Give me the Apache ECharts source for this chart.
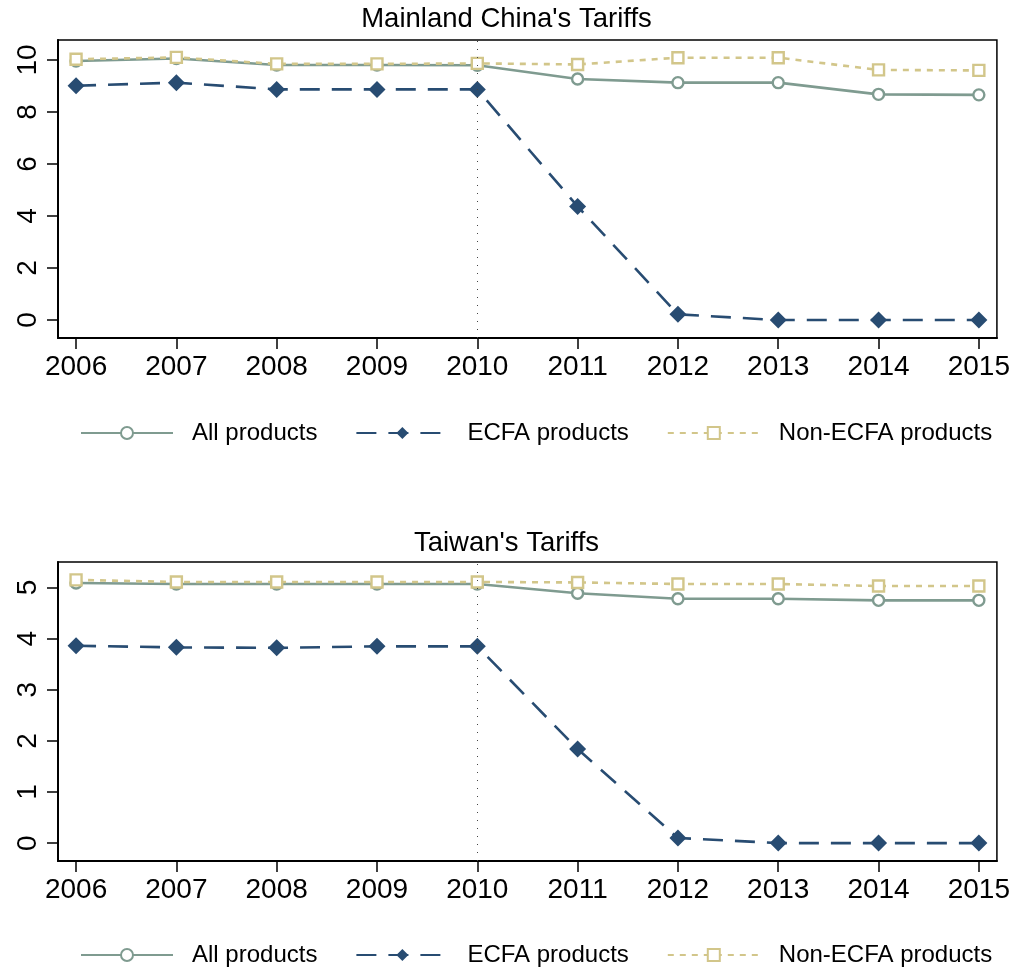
<!DOCTYPE html>
<html>
<head>
<meta charset="utf-8">
<script src="https://cdn.jsdelivr.net/npm/echarts@6/dist/echarts.min.js"></script>
<style>
  html, body { margin: 0; padding: 0; background: #fff; }
  #chart { width: 1013px; height: 969px; }
</style>
</head>
<body>
<div id="chart"></div>
<script>
// Average tariff rates (%) by year
const years = [2006, 2007, 2008, 2009, 2010, 2011, 2012, 2013, 2014, 2015];

const chinaAll     = [9.96, 10.06, 9.81, 9.81, 9.80, 9.27, 9.13, 9.13, 8.68, 8.66];
const chinaEcfa    = [9.01, 9.13, 8.87, 8.87, 8.87, 4.37, 0.22, 0.00, 0.00, 0.00];
const chinaNonEcfa = [10.03, 10.10, 9.85, 9.85, 9.87, 9.83, 10.09, 10.09, 9.62, 9.60];

const taiwanAll     = [5.09, 5.07, 5.07, 5.07, 5.07, 4.89, 4.78, 4.78, 4.75, 4.75];
const taiwanEcfa    = [3.86, 3.83, 3.82, 3.85, 3.85, 1.84, 0.10, 0.00, 0.00, 0.00];
const taiwanNonEcfa = [5.15, 5.11, 5.11, 5.11, 5.11, 5.10, 5.07, 5.07, 5.03, 5.03];

const chinaTicks  = [0, 2, 4, 6, 8, 10];
const taiwanTicks = [0, 1, 2, 3, 4, 5];

const seriesNames = ['All products', 'ECFA products', 'Non-ECFA products'];
const ecfaYear = 2010;

const FONT = 'Liberation Sans, Helvetica, Arial, sans-serif';
const C_ALL = '#7f9b90';
const C_ECFA = '#284c72';
const C_NON = '#d2c68a';

function pairs(vals) { return years.map((y, i) => [y, vals[i]]); }

function styleFor(name) {
  if (name === 'All products') {
    return { symbol: 'circle', symbolSize: 11, color: C_ALL, lineType: 'solid', fill: '#fff', bw: 2.4 };
  }
  if (name === 'ECFA products') {
    return { symbol: 'diamond', symbolSize: 17, color: C_ECFA, lineType: [20, 12], fill: C_ECFA, bw: 0 };
  }
  return { symbol: 'rect', symbolSize: 11, color: C_NON, lineType: [6, 6], fill: '#fff', bw: 2.4 };
}

function makeSeries(gridIdx, name, vals, withMark) {
  const s = styleFor(name);
  const out = {
    type: 'line',
    name: name,
    xAxisIndex: gridIdx,
    yAxisIndex: gridIdx,
    data: pairs(vals),
    symbol: s.symbol,
    symbolSize: s.symbolSize,
    showAllSymbol: true,
    lineStyle: { color: s.color, width: 2.6, type: s.lineType },
    itemStyle: { color: s.fill, borderColor: s.color, borderWidth: s.bw },
    emphasis: { disabled: true },
    animation: false,
    z: 3
  };
  if (withMark) {
    out.markLine = {
      silent: true,
      symbol: 'none',
      label: { show: false },
      lineStyle: { color: '#444', width: 1, type: [1, 7] },
      data: [{ xAxis: ecfaYear }],
      animation: false
    };
  }
  return out;
}

function xAxis(gridIdx) {
  return {
    type: 'value',
    gridIndex: gridIdx,
    min: 2005.82,
    max: 2015.18,
    splitLine: { show: false },
    axisLine: { show: true, onZero: false, lineStyle: { color: '#000', width: 2 } },
    axisTick: { show: true, length: 11, lineStyle: { color: '#000', width: 1.5 }, customValues: years },
    axisLabel: { fontFamily: FONT, fontSize: 28, color: '#000', margin: 15, customValues: years, formatter: v => String(v) }
  };
}

function yAxis(gridIdx, min, max, ticks) {
  return {
    type: 'value',
    gridIndex: gridIdx,
    min: min,
    max: max,
    splitLine: { show: false },
    axisLine: { show: true, onZero: false, lineStyle: { color: '#000', width: 2 } },
    axisTick: { show: true, length: 11, lineStyle: { color: '#000', width: 1.5 }, customValues: ticks },
    axisLabel: { fontFamily: FONT, fontSize: 28, color: '#000', rotate: 90, margin: 16, customValues: ticks, formatter: v => String(v) }
  };
}

function legend(top) {
  return {
    top: top,
    left: 80,
    padding: 0,
    itemWidth: 92,
    itemHeight: 15,
    itemGap: 38,
    selectedMode: false,
    data: seriesNames,
    textStyle: { fontFamily: FONT, fontSize: 24, color: '#000', padding: [0, 0, 0, 14] }
  };
}

const option = {
  backgroundColor: '#fff',
  animation: false,
  title: [
    { text: "Mainland China's Tariffs", left: 'center', top: 5, padding: 0,
      textStyle: { fontFamily: FONT, fontSize: 27.5, fontWeight: 'normal', color: '#000' } },
    { text: "Taiwan's Tariffs", left: 'center', top: 529, padding: 0,
      textStyle: { fontFamily: FONT, fontSize: 27.5, fontWeight: 'normal', color: '#000' } }
  ],
  legend: [legend(421), legend(943)],
  grid: [
    { left: 58, right: 16, top: 40, height: 298, show: true, borderColor: '#000', borderWidth: 1.5, backgroundColor: 'transparent' },
    { left: 58, right: 16, top: 562, height: 299, show: true, borderColor: '#000', borderWidth: 1.5, backgroundColor: 'transparent' }
  ],
  xAxis: [xAxis(0), xAxis(1)],
  yAxis: [yAxis(0, -0.69, 10.77, chinaTicks), yAxis(1, -0.35, 5.50, taiwanTicks)],
  series: [
    makeSeries(0, 'All products', chinaAll, true),
    makeSeries(0, 'ECFA products', chinaEcfa, false),
    makeSeries(0, 'Non-ECFA products', chinaNonEcfa, false),
    makeSeries(1, 'All products', taiwanAll, true),
    makeSeries(1, 'ECFA products', taiwanEcfa, false),
    makeSeries(1, 'Non-ECFA products', taiwanNonEcfa, false)
  ]
};

const chart = echarts.init(document.getElementById('chart'), null, { renderer: 'canvas' });
chart.setOption(option);
</script>
</body>
</html>
